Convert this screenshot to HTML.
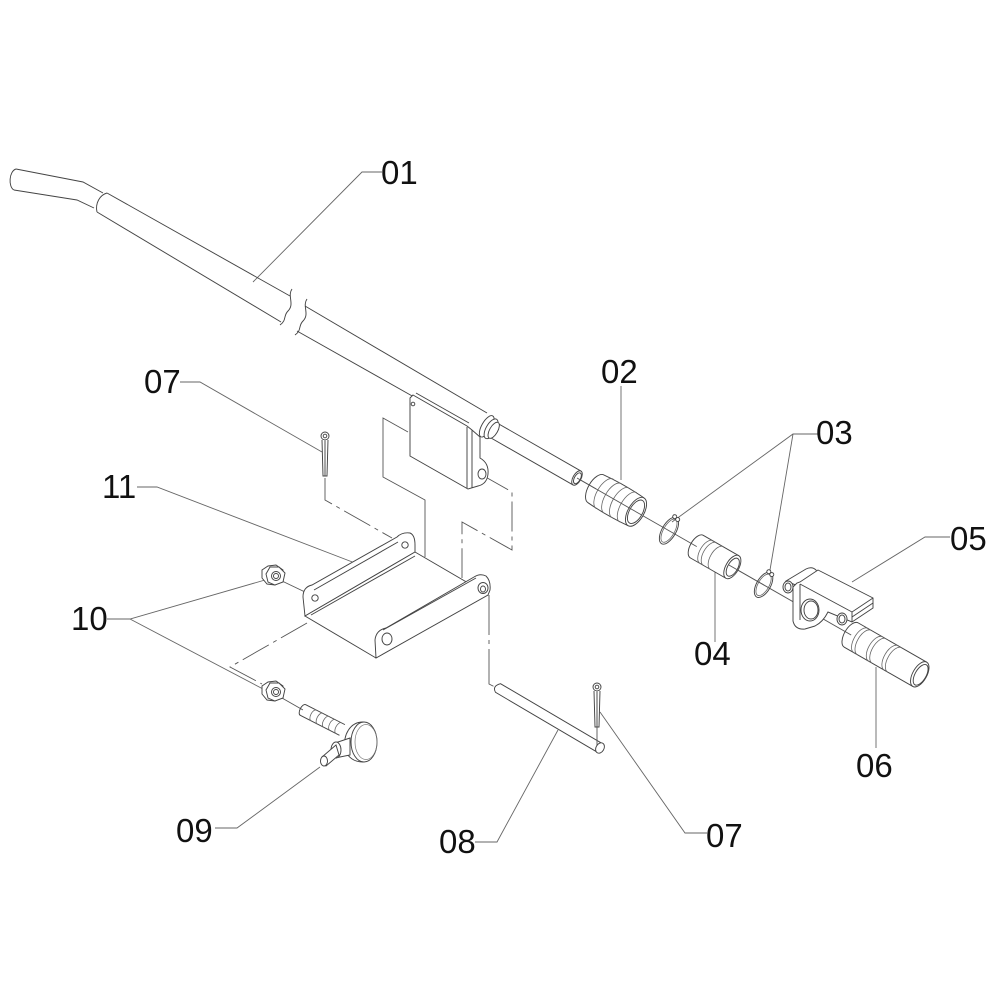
<!DOCTYPE html>
<html>
<head>
<meta charset="utf-8">
<style>
html,body{margin:0;padding:0;background:#fff;}
svg{display:block;}
text{font-family:"Liberation Sans",Arial,sans-serif;font-size:33px;fill:#111;}
</style>
</head>
<body>
<svg width="1000" height="1000" viewBox="0 0 1000 1000" xmlns="http://www.w3.org/2000/svg">
<rect width="1000" height="1000" fill="#fff"/>

<!-- assembly (dashed) lines -->
<g fill="none" stroke="#555" stroke-width="0.9">
  <path d="M408,432 L383,418 L383,477 L425,500 L425,557"/>
  <path d="M482,475 L512,492 L512,550 L462,522 L462,578" stroke-dasharray="30 5 4 5"/>
  <path d="M325,478 L325,500 L392,538" stroke-dasharray="30 5 4 5"/>
  <path d="M489,595 L489,684 L497,688" stroke-dasharray="40 5 4 5"/>
  <path d="M307,623 L230,667 L262,684" stroke-dasharray="30 5 4 5"/>
  <path d="M282,581 L305,592"/>
  <path d="M282,698 L303,710"/>
</g>

<!-- leader lines -->
<g fill="none" stroke="#666" stroke-width="0.9">
  <path d="M382,172 L362,172 L253,282"/>
  <path d="M180,382 L200,382 L322,452"/>
  <path d="M137,487 L157,487 L355,563"/>
  <path d="M107,619 L130,619 L265,580 M130,619 L263,689"/>
  <path d="M621,386 L621,480"/>
  <path d="M818,434 L793,434 L672,522 M793,434 L770,570"/>
  <path d="M715,642 L715,567"/>
  <path d="M950,537 L925,537 L852,582"/>
  <path d="M876,748 L876,667"/>
  <path d="M215,828 L237,828 L320,767"/>
  <path d="M475,842 L497,842 L558,730"/>
  <path d="M707,833 L685,833 L600,712"/>
</g>

<!-- Part 01 rod -->
<g fill="none" stroke="#444" stroke-width="0.95">
  <path d="M16,169 C9,171 8,187 14,190"/>
  <path d="M16,169 L83,182 L103,193"/>
  <path d="M14,190 L77,200 L94,208"/>
  <path d="M107,193 C100,195 95,203 97,212"/>
  <path d="M107,193 L290,296"/>
  <path d="M97,212 L281,322"/>
  <path d="M292,289 C287,296 295,304 288,311 C283,316 287,320 280,325"/>
  <path d="M307,299 C302,306 310,314 303,321 C298,326 302,330 295,335"/>
  <path d="M305,306 L487,413"/>
  <path d="M297,331 L414,397"/>
</g>

<!-- bracket on rod -->
<g fill="#fff" stroke="#444" stroke-width="0.95">
  <path d="M413,395 L467,426 L472,430 L480,437 L480,458 Q489,463 488,474 Q487,484 478,486 L468,489 L410,456 L410,398 Z"/>
  <path d="M416,393 L469,423" fill="none"/>
  <path d="M467,427 L467,488 M472,430 L472,488" fill="none"/>
  <circle cx="413" cy="404" r="1.8" fill="none"/>
  <ellipse cx="482" cy="474" rx="4" ry="5"/>
</g>

<!-- axis components -->
<g transform="translate(577,478) rotate(29.8)" stroke="#444" stroke-width="0.95">
  <path d="M0,0 L322,0" stroke="#555" stroke-width="0.9" fill="none"/>
  <!-- shaft -->
  <path d="M-100,-8 L0,-8 L0,8 L-100,8 Z" fill="#fff" stroke="none"/>
  <path d="M-100,-8 L0,-8 M-100,8 L0,8" fill="none"/>
  <ellipse cx="0" cy="0" rx="4" ry="8" fill="#fff"/>
  <ellipse cx="0.5" cy="0" rx="3" ry="6" fill="none"/>
  <!-- collar -->
  <ellipse cx="-104" cy="0" rx="5" ry="12" fill="#fff"/>
  <ellipse cx="-99" cy="0" rx="5" ry="11" fill="#fff"/>
  <ellipse cx="-96" cy="0" rx="4" ry="9" fill="#fff"/>
  <!-- 02 bellows -->
  <path d="M22,-16 L68,-16 L68,16 L22,16 Z" fill="#fff" stroke="none"/>
  <path d="M22,-16 Q45,-18 68,-16 M22,16 Q45,18 68,16 M22,-16 A8,16 0 0 0 22,16" fill="none"/>
  <path d="M32,-17 A8,17 0 0 0 32,17 M41,-17 A8,17 0 0 0 41,17 M50,-17 A8,17 0 0 0 50,17 M59,-17 A8,17 0 0 0 59,17" fill="none" stroke="#666" stroke-width="0.8"/>
  <ellipse cx="68" cy="0" rx="8" ry="16" fill="#fff"/>
  <ellipse cx="68" cy="0" rx="6.5" ry="13" fill="none"/>
  <path d="M0,0 L75,0" stroke="#555" stroke-width="0.9" fill="none"/>
  <!-- 03 ring a -->
  <ellipse cx="106" cy="0" rx="7" ry="15" fill="none"/>
  <ellipse cx="106" cy="0" rx="5.5" ry="13" fill="none" stroke="#666" stroke-width="0.8"/>
  <circle cx="104" cy="-15" r="2" fill="#fff"/>
  <circle cx="108" cy="-14" r="2" fill="#fff"/>
  <!-- 04 bushing -->
  <path d="M138,-13 L179,-13 L179,13 L138,13 Z" fill="#fff" stroke="none"/>
  <path d="M138,-13 L179,-13 M138,13 L179,13 M138,-13 A6.5,13 0 0 0 138,13" fill="none"/>
  <path d="M149,-13 A6.5,13 0 0 0 149,13 M153,-13 A6.5,13 0 0 0 153,13 M161,-13 A6.5,13 0 0 0 161,13" fill="none" stroke="#666" stroke-width="0.8"/>
  <ellipse cx="179" cy="0" rx="6.5" ry="13" fill="#fff"/>
  <ellipse cx="179.5" cy="0" rx="5" ry="10" fill="none"/>
  <path d="M175,0 L215,0" stroke="#555" stroke-width="0.9" fill="none"/>
  <!-- 03 ring b -->
  <ellipse cx="215" cy="0" rx="7" ry="14" fill="none"/>
  <ellipse cx="215" cy="0" rx="5.5" ry="12" fill="none" stroke="#666" stroke-width="0.8"/>
  <circle cx="213" cy="-14" r="2" fill="#fff"/>
  <circle cx="217" cy="-13" r="2" fill="#fff"/>
  <!-- 06 grip -->
  <path d="M316,-14 L395,-14 L395,14 L316,14 Z" fill="#fff" stroke="none"/>
  <path d="M316,-14 L395,-14 M316,14 L395,14 M316,-14 A7,14 0 0 0 316,14" fill="none"/>
  <path d="M327,-14 A7,14 0 0 0 327,14 M331,-14 A7,14 0 0 0 331,14 M344,-14 A7,14 0 0 0 344,14 M348,-14 A7,14 0 0 0 348,14 M362,-14 A7,14 0 0 0 362,14 M366,-14 A7,14 0 0 0 366,14" fill="none" stroke="#666" stroke-width="0.8"/>
  <ellipse cx="395" cy="0" rx="7" ry="14" fill="#fff"/>
  <ellipse cx="396" cy="0" rx="5.5" ry="11.5" fill="none"/>
</g>

<!-- Part 05 -->
<g fill="#fff" stroke="#444" stroke-width="0.95">
  <path d="M786,581 L806,569 Q812,566 816,570 L818,573 L798,586 Z"/>
  <ellipse cx="788" cy="587" rx="5" ry="6"/>
  <ellipse cx="788" cy="587" rx="3" ry="4" fill="none"/>
  <path d="M797,583 L793,587 L793,621 Q795,630 805,629 L815,626 Q823,622 828,612 L852,622 L873,608 L873,598 L818,570 L800,582 Z"/>
  <path d="M800,584 L800,620" fill="none"/>
  <path d="M800,584 L852,612 L873,598 M852,612 L852,622 M852,617 L873,603" fill="none"/>
  <ellipse cx="810" cy="610" rx="9" ry="11"/>
  <ellipse cx="811" cy="610" rx="7" ry="9" fill="none"/>
  <ellipse cx="842" cy="619" rx="5" ry="6"/>
  <ellipse cx="842" cy="619" rx="3" ry="4" fill="none"/>
</g>

<!-- Bracket 11 -->
<g fill="#fff" stroke="#444" stroke-width="0.95">
  <path d="M305,616 L303,597 Q303,587 312,585 L397,537 Q402,532 410,533 Q415,535 415,545 L415,552 Z"/>
  <path d="M314,590 L398,542" fill="none"/>
  <circle cx="315" cy="598" r="3.2" fill="none"/>
  <circle cx="405" cy="545" r="3.2" fill="none"/>
  <path d="M305,616 L415,552 L487,594 L376,658 Z"/>
  <path d="M311,615 L415,556" fill="none"/>
  <path d="M376,658 L375,640 Q376,630 386,628 L474,577 Q480,573 486,576 Q491,581 490,590 L488,595 Z"/>
  <path d="M383,630 L476,578" fill="none"/>
  <ellipse cx="387" cy="639" rx="5" ry="6" fill="none"/>
  <ellipse cx="483" cy="588" rx="5" ry="5.5"/>
  <ellipse cx="483" cy="589" rx="2.5" ry="3" fill="none"/>
</g>

<!-- Nuts 10 -->
<g fill="#fff" stroke="#444" stroke-width="0.95">
  <polygon points="268,566 276,565 283,570 283,580 275,585 267,584 262,578 262,570"/>
  <polygon points="270,567 279,567 285,573 283,582 275,585 268,582 266,574"/>
  <circle cx="276" cy="576" r="4.5" fill="none"/>
  <circle cx="276" cy="576" r="2.5" fill="none"/>
  <polygon points="268,682 276,681 283,686 283,696 275,701 267,700 262,694 262,686"/>
  <polygon points="270,683 279,683 285,689 283,698 275,701 268,698 266,690"/>
  <circle cx="276" cy="692" r="4.5" fill="none"/>
  <circle cx="276" cy="692" r="2.5" fill="none"/>
</g>

<!-- Bolt 09 -->
<g transform="translate(303,710) rotate(27)" fill="#fff" stroke="#444" stroke-width="0.95">
  <path d="M0,-6 L44,-6 L44,6 L0,6 Z" stroke="none"/>
  <path d="M0,-6 L44,-6 M0,6 L44,6 M0,-6 A3,6 0 0 0 0,6" fill="none"/>
  <path d="M12,-6 A3,6 0 0 0 12,6 M19,-6 A3,6 0 0 0 19,6 M26,-6 A3,6 0 0 0 26,6 M33,-6 A3,6 0 0 0 33,6 M40,-6 A3,6 0 0 0 40,6" fill="none" stroke="#666" stroke-width="0.8"/>
</g>
<g fill="#fff" stroke="#444" stroke-width="0.95">
  <path d="M363,722 C350,722 343,735 345,748 C347,758 355,762 363,762 Z"/>
  <ellipse cx="364" cy="742" rx="13" ry="20"/>
  <ellipse cx="366" cy="742" rx="11" ry="17.5" fill="none" stroke="#777" stroke-width="0.7"/>
  <path d="M350,738 L335,743 L335,758 L350,755 Z"/>
  <ellipse cx="336" cy="750" rx="5" ry="8"/>
  <path d="M336,745 L322,757 L326,766 L339,755 Z"/>
  <ellipse cx="324" cy="761" rx="3.5" ry="5"/>
</g>

<!-- Pin 08 -->
<g fill="#fff" stroke="#444" stroke-width="0.95">
  <path d="M500.5,683.7 L602.5,743.7 L597.5,752.3 L495.5,692.3 Q492,686 500.5,683.7 Z"/>
  <ellipse cx="600" cy="748" rx="4" ry="5.5" transform="rotate(30 600 748)"/>
</g>

<!-- Cotter pins 07 -->
<g fill="#fff" stroke="#444" stroke-width="0.95">
  <circle cx="325" cy="436" r="4"/>
  <circle cx="325" cy="436" r="1.8" fill="none"/>
  <path d="M322,440 L323,476 L327,476 L328,440" />
  <path d="M325,440 L325,476" fill="none"/>
  <circle cx="597" cy="687" r="4"/>
  <circle cx="597" cy="687" r="1.8" fill="none"/>
  <path d="M594,691 L595,727 L599,727 L600,691"/>
  <path d="M597,691 L597,727" fill="none"/>
  <path d="M597,727 L597,745" fill="none" stroke="#555" stroke-width="0.9"/>
</g>

<!-- labels -->
<text x="381" y="184">01</text>
<text x="601" y="383">02</text>
<text x="816" y="444">03</text>
<text x="694" y="665">04</text>
<text x="950" y="550">05</text>
<text x="856" y="777">06</text>
<text x="144" y="393">07</text>
<text x="706" y="847">07</text>
<text x="439" y="853">08</text>
<text x="176" y="842">09</text>
<text x="71" y="630">10</text>
<text x="102" y="498">11</text>
</svg>
</body>
</html>
